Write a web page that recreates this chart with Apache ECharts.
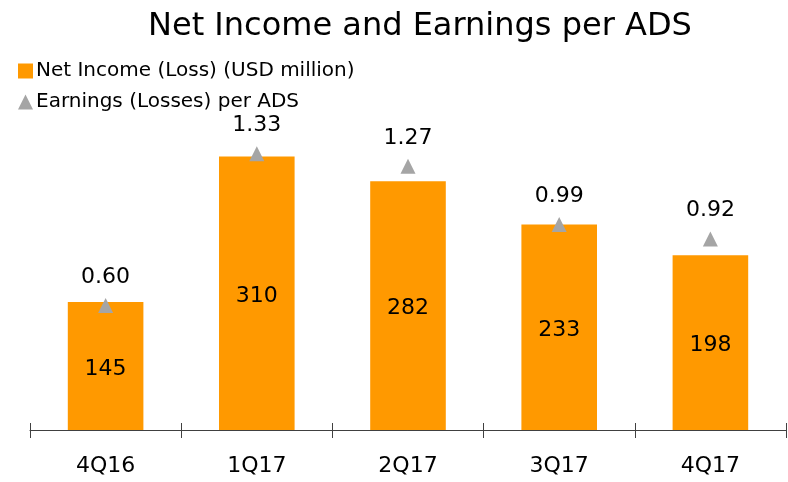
<!DOCTYPE html>
<html>
<head>
<meta charset="utf-8">
<script src="https://cdn.jsdelivr.net/npm/echarts@6/dist/echarts.min.js"></script>
<style>
  html, body { margin: 0; padding: 0; background: #fff; }
  #chart { width: 788px; height: 482px; }
</style>
</head>
<body>
<div id="chart"></div>
<script>
var quarters = ['4Q16', '1Q17', '2Q17', '3Q17', '4Q17'];
var netIncome = [145, 310, 282, 233, 198];
var eps = [0.60, 1.33, 1.27, 0.99, 0.92];

var font = 'DejaVu Sans';

var option = {
  animation: false,
  title: {
    text: 'Net Income and Earnings per ADS',
    left: 143,
    top: 6,
    textStyle: { fontFamily: font, fontSize: 32, fontWeight: 'normal', color: '#000' }
  },
  legend: {
    orient: 'vertical',
    left: 13,
    top: 56,
    itemGap: 11,
    itemWidth: 15,
    itemHeight: 15,
    textStyle: { fontFamily: font, fontSize: 20, color: '#000', padding: [0, 0, 0, -2] },
    data: [
      { name: 'Net Income (Loss) (USD million)', icon: 'rect' },
      { name: 'Earnings (Losses) per ADS', icon: 'triangle' }
    ]
  },
  grid: { left: 30, right: 2, top: 77, bottom: 52 },
  xAxis: [
    {
      type: 'category',
      data: quarters,
      axisLine: { lineStyle: { color: '#404040', width: 1 } },
      axisTick: { show: true, length: 8, lineStyle: { color: '#404040' } },
      axisLabel: { fontFamily: font, fontSize: 22, color: '#000', margin: 25 }
    },
    {
      type: 'category',
      data: quarters,
      position: 'bottom',
      axisLine: { show: false },
      axisTick: { show: true, inside: true, length: 7, lineStyle: { color: '#404040' } },
      axisLabel: { show: false }
    }
  ],
  yAxis: [
    { type: 'value', min: 0, max: 400, show: false },
    { type: 'value', min: 0, max: 1.7, show: false }
  ],
  series: [
    {
      name: 'Net Income (Loss) (USD million)',
      type: 'bar',
      data: netIncome,
      barWidth: '50%',
      itemStyle: { color: '#FF9900' },
      label: {
        show: true,
        position: 'inside',
        offset: [0, 3],
        fontFamily: font,
        fontSize: 22,
        color: '#000'
      }
    },
    {
      name: 'Earnings (Losses) per ADS',
      type: 'line',
      yAxisIndex: 1,
      data: eps,
      symbol: 'triangle',
      symbolSize: 15,
      lineStyle: { opacity: 0 },
      itemStyle: { color: '#A5A5A5' },
      label: {
        show: true,
        position: 'top',
        distance: 10,
        fontFamily: font,
        fontSize: 22,
        color: '#000',
        formatter: function (p) { return p.value.toFixed(2); }
      }
    }
  ]
};

var myChart = echarts.init(document.getElementById('chart'));
myChart.setOption(option);
</script>
</body>
</html>
